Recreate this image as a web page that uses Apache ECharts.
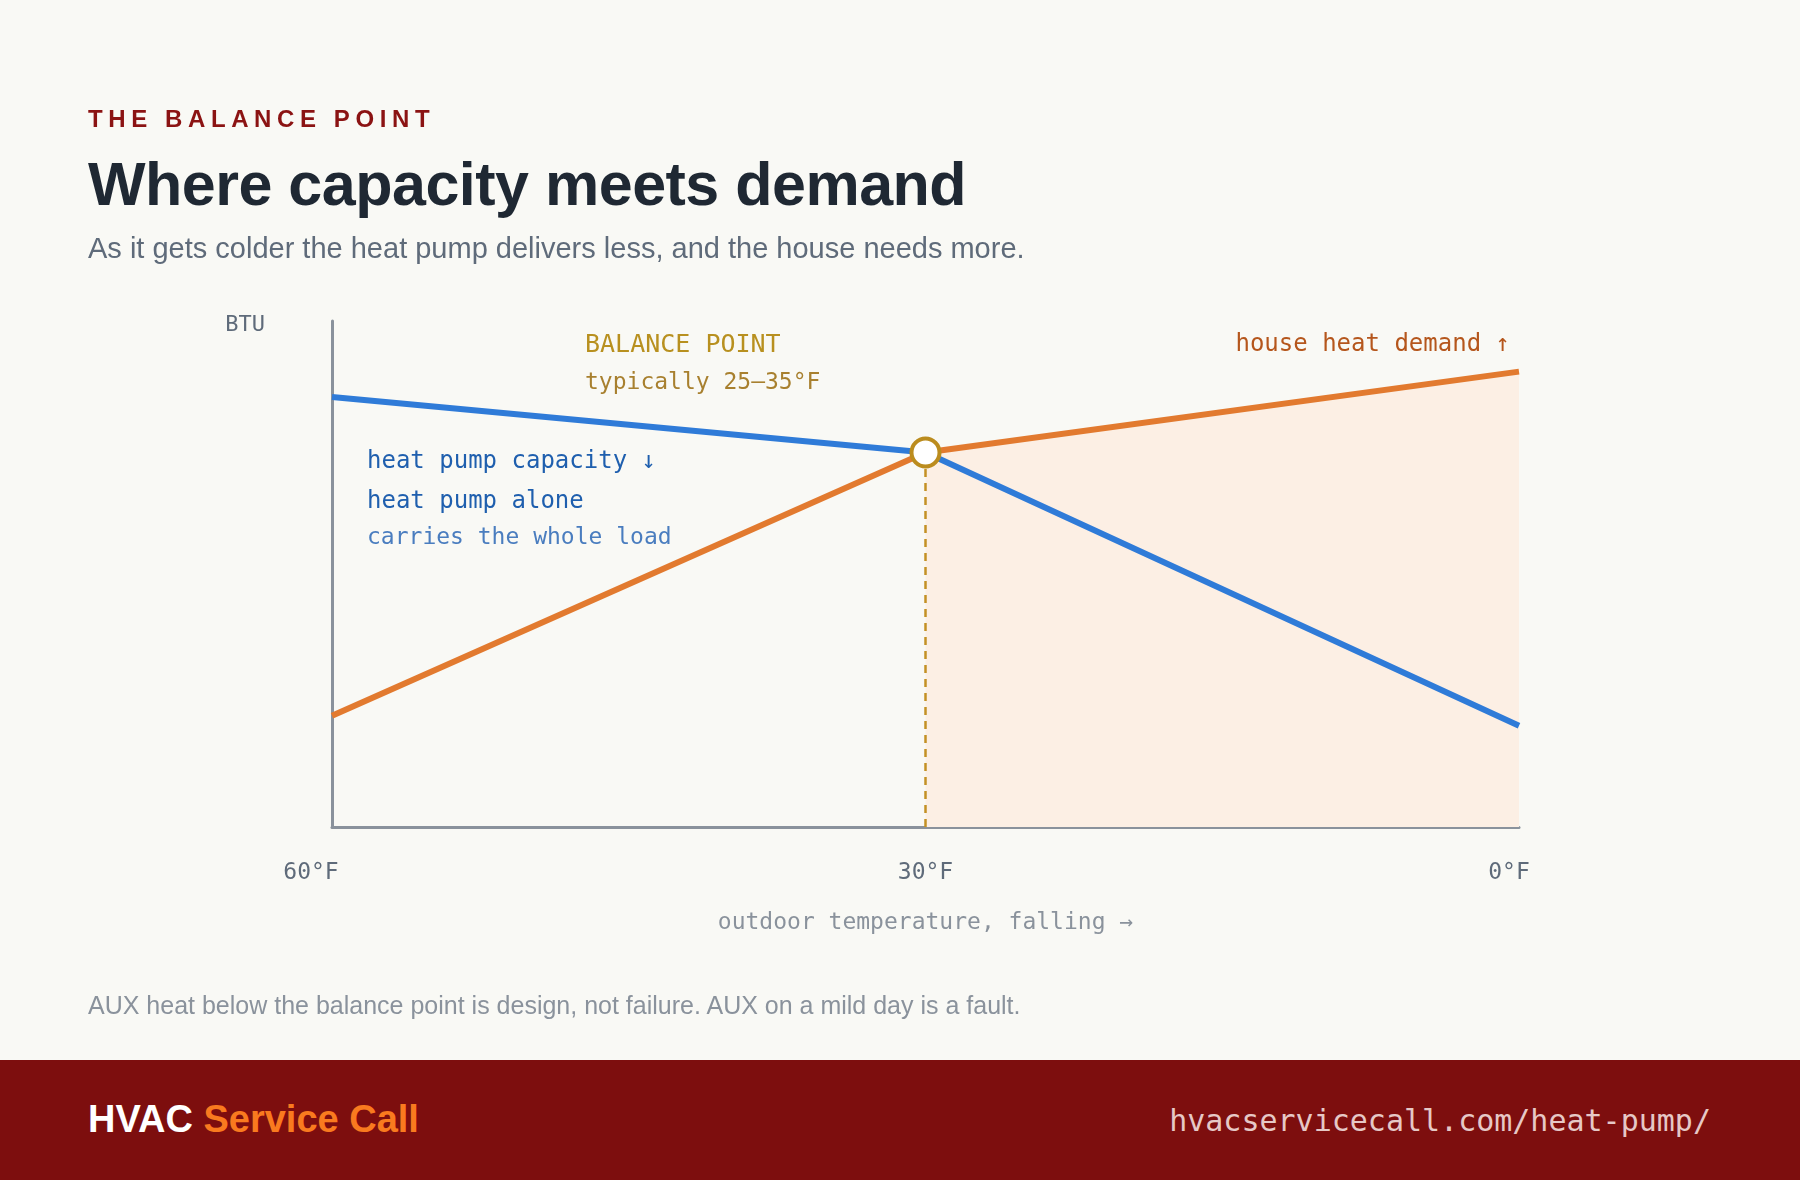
<!DOCTYPE html>
<html>
<head>
<meta charset="utf-8">
<script src="https://cdn.jsdelivr.net/npm/echarts@6/dist/echarts.min.js"></script>
<style>
  html, body { margin: 0; padding: 0; background: #f9f9f5; }
  #page { position: relative; width: 1800px; height: 1180px; overflow: hidden; font-family: "Liberation Sans", Arial, sans-serif; }
  #chart { position: absolute; left: 0; top: 0; width: 1800px; height: 1180px; }
  .t { position: absolute; left: 88px; white-space: nowrap; line-height: 1; }
  #kicker { top: 107px; font-size: 24px; font-weight: bold; letter-spacing: 5.6px; color: #8b1313; }
  #title { top: 154px; font-size: 61px; font-weight: bold; color: #1f2833; letter-spacing: -0.5px; }
  #sub { top: 234px; font-size: 29px; color: #5f6b7a; }
  #note { top: 993px; font-size: 25px; color: #8a929c; }
  #footer { position: absolute; left: 0; top: 1060px; width: 1800px; height: 120px; background: #7d0e0e; }
  #brand { position: absolute; left: 88px; top: 40px; font-size: 38px; font-weight: bold; color: #ffffff; line-height: 1; }
  #brand span { color: #f97a1f; }
  #url { position: absolute; right: 89px; top: 46px; font-family: "DejaVu Sans Mono", monospace; font-size: 30px; color: #e6c8c6; line-height: 1; }
</style>
</head>
<body>
<div id="page">
  <div id="chart"></div>
  <div class="t" id="kicker">THE BALANCE POINT</div>
  <div class="t" id="title">Where capacity meets demand</div>
  <div class="t" id="sub">As it gets colder the heat pump delivers less, and the house needs more.</div>
  <div class="t" id="note">AUX heat below the balance point is design, not failure. AUX on a mild day is a fault.</div>
  <div id="footer">
    <div id="brand">HVAC <span>Service Call</span></div>
    <div id="url">hvacservicecall.com/heat-pump/</div>
  </div>
</div>
<script>
// outdoor temperature (°F), left to right = falling
var temps = [60, 30, 0]
// heat pump capacity and house heat demand (relative BTU)
var capacity = [85, 74, 20]
var demand = [22, 74, 90]
// where the two lines cross
var balanceTemp = 30
var balanceBtu = 74
var tickLabels = { 60: '60°F', 30: '30°F', 0: '0°F' }

var mono = '"DejaVu Sans Mono", monospace'

function pairs(xs, ys) {
  return xs.map(function (x, i) { return [x, ys[i]] })
}

var demandPts = pairs(temps, demand)
var auxPts = demandPts.filter(function (p) { return p[0] <= balanceTemp })

var chart = echarts.init(document.getElementById('chart'))

var option = {
  animation: false,
  grid: { left: 332, right: 281, top: 321, bottom: 353, containLabel: false, outerBoundsMode: 'none' },
  xAxis: {
    type: 'value',
    min: 0,
    max: 60,
    interval: 30,
    inverse: true,
    name: 'outdoor temperature, falling →',
    nameLocation: 'middle',
    nameGap: 85,
    nameTextStyle: { fontFamily: mono, fontSize: 23, color: '#8a929c' },
    axisLine: { show: true, lineStyle: { color: '#8a929c', width: 3 } },
    axisTick: { show: false },
    splitLine: { show: false },
    axisLabel: {
      margin: 35,
      fontFamily: mono,
      fontSize: 23,
      color: '#5f6b7a',
      formatter: function (v) {
        if (v === 60) return '{a|' + tickLabels[v] + '}'
        if (v === 0) return '{b|' + tickLabels[v] + '}'
        return '{c|' + tickLabels[v] + '}'
      },
      rich: {
        a: { fontFamily: mono, fontSize: 23, color: '#5f6b7a', padding: [0, 42, 0, 0] },
        b: { fontFamily: mono, fontSize: 23, color: '#5f6b7a', padding: [0, 20, 0, 0] },
        c: { fontFamily: mono, fontSize: 23, color: '#5f6b7a' }
      }
    }
  },
  yAxis: {
    type: 'value',
    min: 0,
    max: 100,
    position: 'left',
    name: 'BTU',
    nameLocation: 'end',
    nameGap: -4,
    nameTextStyle: { fontFamily: mono, fontSize: 22, color: '#5f6b7a', align: 'right', verticalAlign: 'middle', padding: [0, 67, 0, 0] },
    axisLine: { show: true, onZero: false, lineStyle: { color: '#8a929c', width: 3 } },
    axisTick: { show: false },
    axisLabel: { show: false },
    splitLine: { show: false }
  },
  series: [
    {
      name: 'aux zone',
      type: 'line',
      data: auxPts,
      symbol: 'none',
      lineStyle: { width: 0 },
      areaStyle: { color: '#fcefe4', opacity: 1 },
      z: 1,
      silent: true
    },
    {
      name: 'house heat demand',
      type: 'line',
      data: demandPts,
      symbol: 'none',
      lineStyle: { color: '#e27a2f', width: 6 },
      itemStyle: { color: '#e27a2f' },
      z: 3
    },
    {
      name: 'heat pump capacity',
      type: 'line',
      data: pairs(temps, capacity),
      symbol: 'none',
      lineStyle: { color: '#2f7bd8', width: 6 },
      itemStyle: { color: '#2f7bd8' },
      z: 4
    },
    {
      name: 'balance point',
      type: 'scatter',
      data: [[balanceTemp, balanceBtu]],
      symbol: 'circle',
      symbolSize: 28,
      itemStyle: { color: '#ffffff', borderColor: '#bb8c1e', borderWidth: 4, opacity: 1 },
      z: 6,
      markLine: {
        silent: true,
        symbol: 'none',
        label: { show: false },
        lineStyle: { color: '#c39125', width: 2.5, type: [8, 6] },
        data: [[{ coord: [balanceTemp, 0] }, { coord: [balanceTemp, balanceBtu] }]]
      }
    }
  ],
  graphic: [
    { type: 'text', x: 585, y: 345, style: { text: 'BALANCE POINT', fill: '#b8901f', font: '25px ' + mono, verticalAlign: 'middle' } },
    { type: 'text', x: 585, y: 383, style: { text: 'typically 25–35°F', fill: '#a8802f', font: '23px ' + mono, verticalAlign: 'middle' } },
    { type: 'text', x: 367, y: 462, style: { text: 'heat pump capacity ↓', fill: '#1f5fae', font: '24px ' + mono, verticalAlign: 'middle' } },
    { type: 'text', x: 367, y: 502, style: { text: 'heat pump alone', fill: '#1f5fae', font: '24px ' + mono, verticalAlign: 'middle' } },
    { type: 'text', x: 367, y: 538, style: { text: 'carries the whole load', fill: '#4a7dbf', font: '23px ' + mono, verticalAlign: 'middle' } },
    { type: 'text', x: 1510, y: 345, style: { text: 'house heat demand ↑', fill: '#b5561c', font: '24px ' + mono, align: 'right', verticalAlign: 'middle' } },
    { type: 'text', x: 1032, y: 725, style: { text: 'AUX heat helps here', fill: '#b35a1f', font: '24px ' + mono, verticalAlign: 'middle' } },
    { type: 'text', x: 1032, y: 765, style: { text: 'this is design, not failure', fill: '#8a5a2b', font: '23px ' + mono, verticalAlign: 'middle' } }
  ]
}

chart.setOption(option)
window.addEventListener('resize', chart.resize)
</script>
</body>
</html>
